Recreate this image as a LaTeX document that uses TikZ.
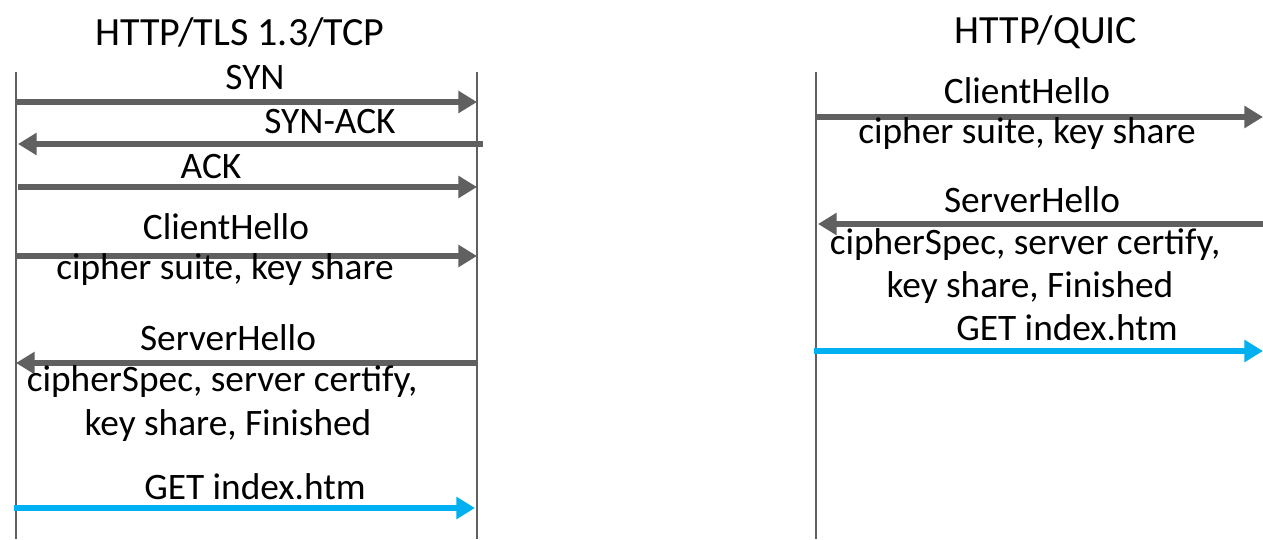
\documentclass[tikz,border=0pt]{standalone}
\usepackage{fontspec}
\setmainfont{Carlito}
\usetikzlibrary{arrows.meta}
\definecolor{ln}{HTML}{606060}
\definecolor{bl}{HTML}{00B0F0}
\begin{document}
\begin{tikzpicture}[x=0.75pt,y=-0.75pt,
  lbl/.style={inner sep=0pt,font=\fontsize{28}{33}\selectfont},
  ttl/.style={inner sep=0pt,font=\fontsize{30}{36}\selectfont},
  life/.style={draw=ln,line width=2.2pt},
  msg/.style={draw=ln,line width=5pt,-{Triangle[length=14pt,width=16pt]}},
  msgb/.style={draw=bl,line width=5pt,-{Triangle[length=14pt,width=16pt]}}]
\useasboundingbox (0,0) rectangle (1263,539);
% titles
\node[ttl] (t1) at (240,32) {HTTP/TLS 1.3/TCP};
\node[ttl] (t2) at (1046,32) {HTTP/QUIC};
% lifelines
\coordinate (L1t) at (16,72); \coordinate (L1b) at (16,539);
\coordinate (R1t) at (477,72); \coordinate (R1b) at (477,539);
\coordinate (L2t) at (816,72); \coordinate (L2b) at (816,539);
\draw[life] (L1t) -- (L1b);
\draw[life] (R1t) -- (R1b);
\draw[life] (L2t) -- (L2b);
% left messages
\coordinate (s1a) at (16,102); \coordinate (s1b) at (477,102);
\coordinate (s2a) at (483,144); \coordinate (s2b) at (18,144);
\coordinate (s3a) at (18,187); \coordinate (s3b) at (477,187);
\coordinate (s4a) at (16,256); \coordinate (s4b) at (477,256);
\coordinate (s5a) at (477,363); \coordinate (s5b) at (16,363);
\coordinate (s6a) at (14,508); \coordinate (s6b) at (475,508);
\draw[msg] (s1a) -- (s1b);
\draw[msg] (s2a) -- (s2b);
\draw[msg] (s3a) -- (s3b);
\draw[msg] (s4a) -- (s4b);
\draw[msg] (s5a) -- (s5b);
\draw[msgb] (s6a) -- (s6b);
\node[lbl] (l1) at (255,78) {SYN};
\node[lbl] (l2) at (330,122) {SYN-ACK};
\node[lbl] (l3) at (211,167) {ACK};
\node[lbl] (l4) at (226,227) {ClientHello};
\node[lbl] (l4b) at (225,270) {cipher suite, key share};
\node[lbl] (l5) at (228,338) {ServerHello};
\node[lbl] (l5b) at (222,382) {cipherSpec, server certify,};
\node[lbl] (l5c) at (228,426) {key share, Finished};
\node[lbl] (l6) at (255,487) {GET index.htm};
% right messages
\coordinate (q1a) at (816,117); \coordinate (q1b) at (1263,117);
\coordinate (q2a) at (1263,224); \coordinate (q2b) at (818,224);
\coordinate (q3a) at (814,351); \coordinate (q3b) at (1263,351);
\draw[msg] (q1a) -- (q1b);
\draw[msg] (q2a) -- (q2b);
\draw[msgb] (q3a) -- (q3b);
\node[lbl] (m1) at (1027,91) {ClientHello};
\node[lbl] (m1b) at (1027,134) {cipher suite, key share};
\node[lbl] (m2) at (1032,200) {ServerHello};
\node[lbl] (m2b) at (1025,245) {cipherSpec, server certify,};
\node[lbl] (m2c) at (1030,288) {key share, Finished};
\node[lbl] (m3) at (1067,328) {GET index.htm};
\end{tikzpicture}
\end{document}
